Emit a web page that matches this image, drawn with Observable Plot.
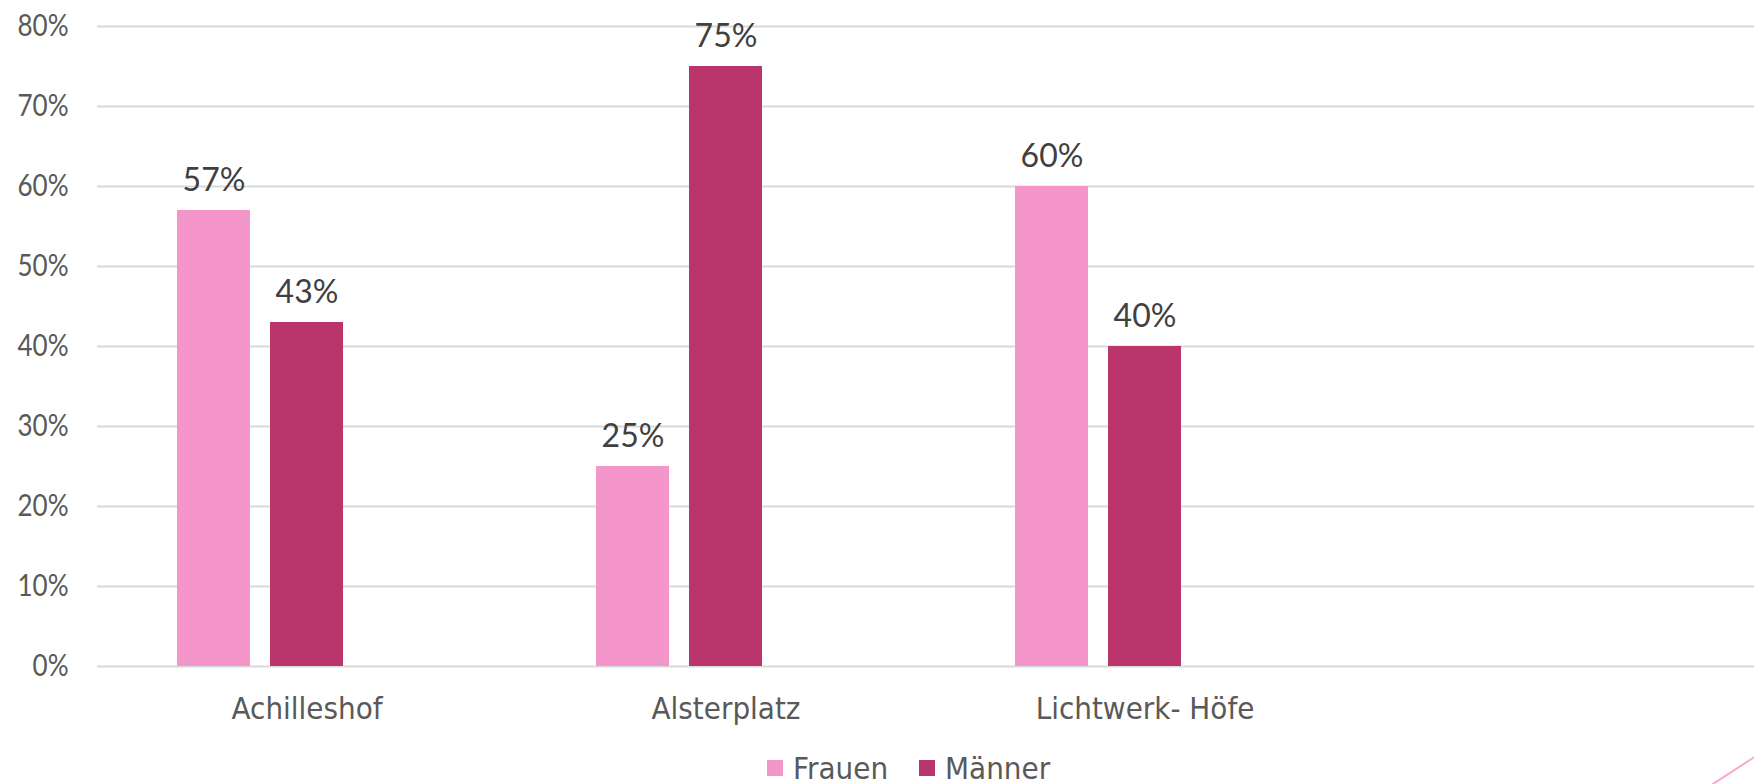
<!DOCTYPE html>
<html>
<head>
<meta charset="utf-8">
<script src="https://cdn.jsdelivr.net/npm/d3@7"></script>
<script src="https://cdn.jsdelivr.net/npm/@observablehq/plot@0.6"></script>
<style>
  html, body { margin: 0; padding: 0; background: #ffffff; }
  #wrap { position: relative; width: 1754px; height: 784px; overflow: hidden; }
  #chart { width: 1754px; height: 740px; overflow: hidden; }
  #chart svg { display: block; max-width: none !important; width: 1774px; height: 740px; }
  #legend { position: absolute; left: 767px; top: 746px; height: 44px; display: flex; align-items: center;
    font-family: "DejaVu Sans", sans-serif; font-size: 30px; color: #595959; white-space: nowrap; }
  .sw { width: 16px; height: 16px; display: inline-block; margin-right: 10px; flex: none; }
  .item { display: flex; align-items: center; }
  .lab { display: inline-block; transform: scaleX(0.93); transform-origin: 0 50%; }
  #deco { position: absolute; left: 1708px; top: 786px; width: 90px; height: 2px; background: #f5a9d3;
    transform: rotate(-33deg); transform-origin: 0 0; }
</style>
</head>
<body>
<div id="wrap">
  <div id="chart"></div>
  <div id="legend"></div>
  <div id="deco"></div>
</div>
<script>
const categories = ["Achilleshof", "Alsterplatz", "Lichtwerk- Höfe", " "];
const series = ["Frauen", "Männer", "—"];
const frauen = [57, 25, 60, null];
const maenner = [43, 75, 40, null];
const yTicks = [0, 10, 20, 30, 40, 50, 60, 70, 80];
const colors = ["#f496ca", "#bb356d", "#ffffff"];

const data = [];
categories.forEach((c, i) => {
  data.push({ort: c, geschlecht: series[0], wert: frauen[i]});
  data.push({ort: c, geschlecht: series[1], wert: maenner[i]});
});

const plot = Plot.plot({
  width: 1774,
  height: 740,
  marginLeft: 96,
  marginRight: 0,
  marginTop: 26,
  marginBottom: 74,
  style: {background: "#ffffff"},
  fx: {domain: categories, padding: 0, label: null},
  x: {domain: series, paddingInner: 0.2128, paddingOuter: 0.838, axis: null},
  y: {domain: [0, 80], label: null},
  color: {domain: series, range: colors},
  marks: [
    Plot.gridY(yTicks, {stroke: "#d9d9d9", strokeOpacity: 1, strokeWidth: 2}),
    Plot.barY(data, {fx: "ort", x: "geschlecht", y: "wert", fill: "geschlecht"}),
    Plot.text(data, {fx: "ort", x: "geschlecht", y: "wert", filter: d => d.wert != null,
      text: d => d.wert + "%", ariaLabel: "werte",
      lineAnchor: "bottom", dy: -20, fontSize: 32, fill: "#404040",
      fontFamily: "Lato, sans-serif"}),
    Plot.axisY(yTicks, {tickSize: 0, tickPadding: 29, tickFormat: d => d + "%", label: null,
      fontSize: 31, fill: "#595959", fontFamily: "Lato, sans-serif"}),
    Plot.axisFx({anchor: "bottom", tickSize: 0, tickPadding: 31, label: null,
      fontSize: 30, fill: "#595959", fontFamily: "'DejaVu Sans', sans-serif"})
  ]
});
document.getElementById("chart").appendChild(plot);

// horizontally condense the text glyphs (the reference text is narrow)
function squeeze(groupLabel, k) {
  plot.querySelectorAll(`g[aria-label="${groupLabel}"] text`).forEach(t => {
    const x = t.getAttribute("x");
    if (x != null) t.setAttribute("x", +x / k);
    const tr = t.getAttribute("transform") || "";
    t.setAttribute("transform", (tr + ` scale(${k},1)`).trim());
  });
}
squeeze("werte", 0.77);
squeeze("y-axis tick label", 0.84);
squeeze("fx-axis tick label", 0.93);

const legend = document.getElementById("legend");
series.slice(0, 2).forEach((s, i) => {
  const item = document.createElement("div");
  item.className = "item";
  item.style.marginRight = i === 0 ? "24px" : "0";
  const sw = document.createElement("span");
  sw.className = "sw";
  sw.style.background = colors[i];
  const t = document.createElement("span");
  t.className = "lab";
  t.textContent = s;
  item.appendChild(sw);
  item.appendChild(t);
  legend.appendChild(item);
});
</script>
</body>
</html>
